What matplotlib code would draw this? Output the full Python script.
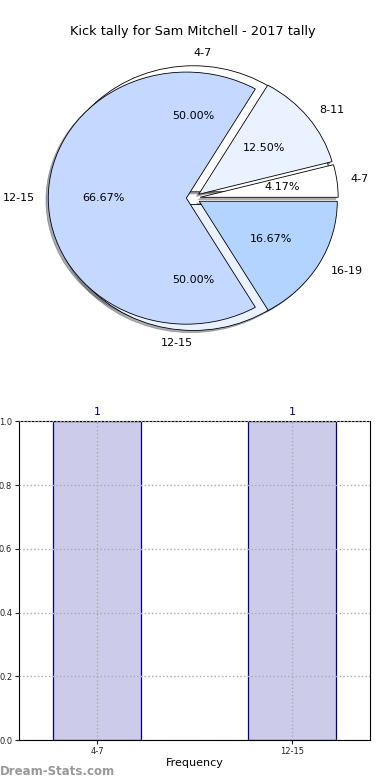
import numpy as np
import matplotlib
matplotlib.use('Agg')
import matplotlib.pyplot as plt

# pie data (all kicks by range) and bar data (frequency per range)
pie_labels = ['4-7', '8-11', '12-15', '16-19']
pie_counts = [1, 3, 16, 4]
freq_labels = ['4-7', '12-15']
freq_counts = [1, 1]

pie_colors = ['#ffffff', '#eaf1ff', '#c5d8ff', '#b3d4ff']
shadow = {'ox': -0.012, 'oy': -0.012, 'shade': 0.6}

fig = plt.figure(figsize=(3.9, 7.8), dpi=100)

# top: pie charts (frequency pie behind, tally pie in front)
ax1 = fig.add_axes([0.053, 0.544, 0.885, 0.404])
w2, t2, a2 = ax1.pie(freq_counts, labels=freq_labels, colors=pie_colors[:2],
                     autopct='%.2f%%', explode=[0.05] * len(freq_counts), shadow=shadow,
                     wedgeprops={'edgecolor': 'black', 'linewidth': 0.6},
                     textprops={'fontsize': 8})
# old-style label alignment for the top/bottom labels
t2[0].set_ha('left')
t2[1].set_ha('right')
ax1.pie(pie_counts, labels=pie_labels, colors=pie_colors, autopct='%.2f%%',
        explode=[0.05] * len(pie_counts), shadow=shadow,
        wedgeprops={'edgecolor': 'black', 'linewidth': 0.6},
        textprops={'fontsize': 8})
ax1.set_aspect('auto')
ax1.set_xlim(-1.25, 1.25)
ax1.set_ylim(-1.25, 1.25)
ax1.set_title('Kick tally for Sam Mitchell - 2017 tally', fontsize=9.3, pad=4)

# bottom: frequency bars
ax2 = fig.add_axes([0.049, 0.051, 0.9, 0.409])
x = np.arange(len(freq_labels))
ax2.bar(x, freq_counts, width=0.45, color='#ccccea', edgecolor='navy',
        linewidth=0.9, zorder=1)
for xi, v in zip(x, freq_counts):
    ax2.text(xi, v + 0.012, str(v), ha='center', va='bottom', color='navy', fontsize=8)
ax2.set_xlim(-0.4, 1.4)
ax2.set_ylim(0, 1.0)
ax2.set_xticks(x)
ax2.set_xticklabels(freq_labels)
ax2.set_yticks(np.arange(0, 1.01, 0.2))
ax2.tick_params(labelsize=6, length=3, pad=2, colors='#222222')
ax2.grid(True, linestyle=':', color='#aaaaaa', linewidth=1.0, zorder=2)
ax2.set_axisbelow(False)
ax2.set_xlabel('Frequency', fontsize=8, labelpad=1)

fig.text(0.0, 0.007, 'Dream-Stats.com', fontsize=8.5, color='#999999', weight='semibold')

fig.savefig('out.png', dpi=100)
